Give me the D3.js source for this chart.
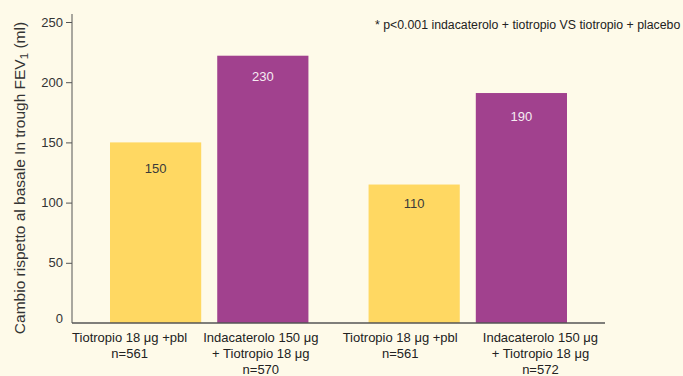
<!DOCTYPE html>
<html>
<head>
<meta charset="utf-8">
<script src="https://cdn.jsdelivr.net/npm/d3@7"></script>
<style>
  html, body { margin: 0; padding: 0; background: #fefae9; }
  svg { display: block; font-family: "Liberation Sans", Arial, sans-serif; }
</style>
</head>
<body>
<svg id="chart" width="683" height="376"></svg>
<script>
// ---- data ----
const groups = ["A", "B"];
const treatments = ["Tiotropio 18 μg +pbl", "Indacaterolo 150 μg + Tiotropio 18 μg"];
const categoryLines = [
  ["Tiotropio 18 μg +pbl", "n=561"],
  ["Indacaterolo 150 μg", "+ Tiotropio 18 μg", "n=570"],
  ["Tiotropio 18 μg +pbl", "n=561"],
  ["Indacaterolo 150 μg", "+ Tiotropio 18 μg", "n=572"]
];
const barValues = [150, 222, 115, 191];     // heights as drawn
const barLabels = ["150", "230", "110", "190"]; // printed values
const yTicks = [0, 50, 100, 150, 200, 250];
const yTitle = "Cambio rispetto al basale In trough FEV";
const note = "* p<0.001 indacaterolo + tiotropio VS tiotropio + placebo";

// ---- drawing ----
const svg = d3.select("#chart");
const colors = ["#ffd862", "#a1418e"];
const labelColors = ["#3a3a3a", "#f6ecf3"];
const x0 = 72, x1 = 605, yBase = 323, yTop = 22;

const y = d3.scaleLinear().domain([0, 250]).range([yBase, yTop]);
const gx = d3.scaleBand().domain(groups).range([x0, x1]).paddingInner(0.2326).paddingOuter(0.147);
const tx = d3.scaleBand().domain([0, 1]).range([0, gx.bandwidth()]).paddingInner(0.1495).paddingOuter(0);

const bars = barValues.map((v, i) => ({
  v, label: barLabels[i], g: groups[Math.floor(i / 2)], t: i % 2, lines: categoryLines[i]
}));
const bx = d => gx(d.g) + tx(d.t);

// bars
svg.selectAll("rect.bar").data(bars).enter().append("rect")
  .attr("class", "bar")
  .attr("x", bx)
  .attr("y", d => y(d.v))
  .attr("width", tx.bandwidth())
  .attr("height", d => y(0) - y(d.v))
  .attr("fill", d => colors[d.t]);

// value labels
const valueDy = [31, 25, 23, 28];
svg.selectAll("text.val").data(bars).enter().append("text")
  .attr("x", d => bx(d) + tx.bandwidth() / 2)
  .attr("y", (d, i) => y(d.v) + valueDy[i])
  .attr("text-anchor", "middle")
  .attr("font-size", 13)
  .attr("fill", d => labelColors[d.t])
  .text(d => d.label);

// y axis
const yAxis = d3.axisLeft(y).tickValues(yTicks.filter(t => t > 0)).tickSize(6).tickPadding(3);
const ga = svg.append("g").attr("transform", `translate(${x0},0)`).call(yAxis);
ga.select(".domain").attr("stroke", "#555").attr("d", `M0,${y(250) - 8}V${yBase}`);
ga.selectAll(".tick line").attr("stroke", "#555");
ga.selectAll(".tick text").attr("font-size", 13).attr("fill", "#333")
  .attr("font-family", "Liberation Sans, Arial, sans-serif");
svg.append("text").attr("x", x0 - 9).attr("y", yBase - 5 + 4.5)
  .attr("text-anchor", "end").attr("font-size", 13).attr("fill", "#333").text(yTicks[0]);

// x axis line
svg.append("line").attr("x1", x0).attr("x2", x1).attr("y1", yBase).attr("y2", yBase)
  .attr("stroke", "#555").attr("stroke-width", 1.5);

// category labels
const labelDx = [-26, -2, -14, 19];
bars.forEach((d, i) => {
  const t = svg.append("text")
    .attr("x", bx(d) + tx.bandwidth() / 2 + labelDx[i])
    .attr("y", 342)
    .attr("text-anchor", "middle")
    .attr("font-size", 13)
    .attr("fill", "#222");
  d.lines.forEach((ln, k) => {
    t.append("tspan").attr("x", bx(d) + tx.bandwidth() / 2 + labelDx[i])
      .attr("dy", k === 0 ? 0 : 16).text(ln);
  });
});

// y title
const yt = svg.append("text")
  .attr("transform", `translate(25,178) rotate(-90)`)
  .attr("text-anchor", "middle")
  .attr("font-size", 15.5)
  .attr("fill", "#333");
yt.append("tspan").text(yTitle);
yt.append("tspan").attr("font-size", 11.5).attr("dy", 3).text("1");
yt.append("tspan").attr("dy", -3).text("  (ml)");

// note
svg.append("text").attr("x", 375).attr("y", 29).attr("font-size", 12.3).attr("fill", "#222").text(note);
</script>
</body>
</html>
